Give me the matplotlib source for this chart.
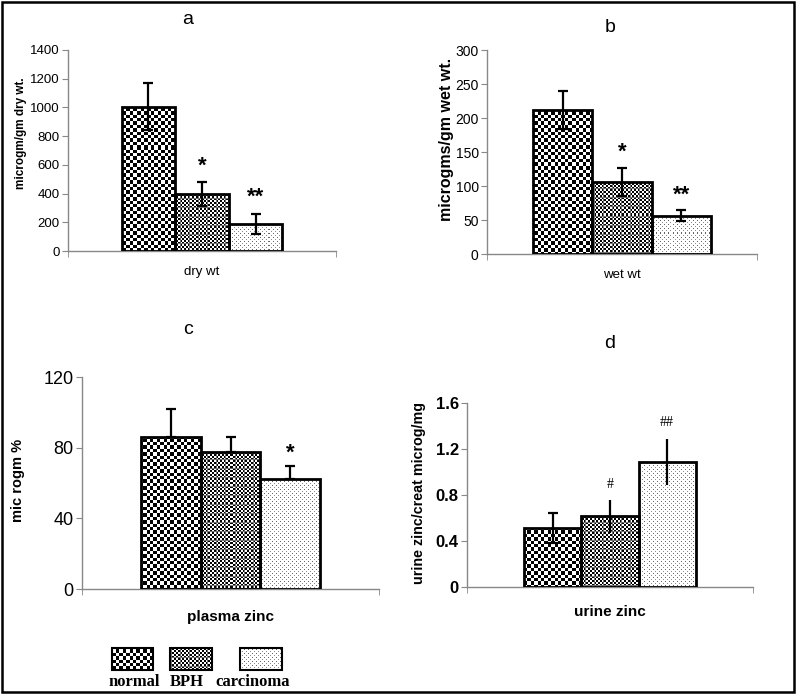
import numpy as np
import matplotlib
matplotlib.use("Agg")
import matplotlib.pyplot as plt
from matplotlib.patches import Rectangle

plt.rcParams['font.family'] = ['Liberation Sans', 'DejaVu Sans']

W, H = 796, 694
DPI = 100

groups = ["normal", "BPH", "carcinoma"]

# panel a
a_vals = [1005, 395, 188]
a_err = [165, 85, 70]
# panel b
b_vals = [212, 106, 56]
b_err = [28, 21, 8]
# panel c
c_vals = [86, 77.5, 62]
c_err = [16, 8.5, 7.5]
# panel d
d_vals = [0.51, 0.615, 1.085]
d_err = [0.13, 0.145, 0.2]

fig = plt.figure(figsize=(W / DPI, H / DPI), dpi=DPI)


def texture(kind, px0, py0, w, h):
    X, Y = np.meshgrid(np.arange(px0, px0 + w), np.arange(py0, py0 + h))
    if kind == 0:
        v = ((np.floor(X / 3.4) + np.floor(Y / 3.4)) % 2).astype(float)
    elif kind == 1:
        v = ((X // 2 + Y // 2) % 2).astype(float)
        v[(X % 9 == 0) | (Y % 9 == 0)] = 0.45
    else:
        v = np.ones(X.shape)
        v[(X % 4 == 0) & (Y % 4 == 0)] = 0.4
        v[(X % 4 == 2) & (Y % 4 == 2)] = 0.55
    return np.dstack([v, v, v])


def fill_texture(ax, x0, y0, x1, y1, kind, clip):
    xl, yl = ax.get_xlim(), ax.get_ylim()
    t = ax.transData
    d0 = t.transform((x0, y0))
    d1 = t.transform((x1, y1))
    px0, px1 = int(np.floor(min(d0[0], d1[0]))), int(np.ceil(max(d0[0], d1[0])))
    py0, py1 = int(np.floor(min(d0[1], d1[1]))), int(np.ceil(max(d0[1], d1[1])))
    arr = texture(kind, px0, py0, px1 - px0, py1 - py0)
    inv = t.inverted()
    e0 = inv.transform((px0, py0))
    e1 = inv.transform((px1, py1))
    im = ax.imshow(arr, extent=(e0[0], e1[0], e0[1], e1[1]), origin='lower',
                   interpolation='nearest', aspect='auto', zorder=2)
    im.set_clip_path(clip)
    ax.set_xlim(xl)
    ax.set_ylim(yl)


def make_panel(rect_px, vals, err, ymax, ystep, width, ylabel, ylabel_fs, ylab_xy,
               xlabel, xlabel_bold, xlabel_fs, xpad, tick_fs, tick_bold,
               lower=True, caps=(True, True, True)):
    l, r, t, b = rect_px
    ax = fig.add_axes([l / W, 1 - b / H, (r - l) / W, (b - t) / H])
    ax.set_xlim(0, 1)
    ax.set_ylim(0, ymax)
    xs = [0.5 + (i - 1) * width for i in range(3)]
    bars = ax.bar(xs, vals, width=width, facecolor='none', edgecolor='black',
                  linewidth=2, zorder=3)
    for i, bar in enumerate(bars):
        fill_texture(ax, xs[i] - width / 2, 0, xs[i] + width / 2, vals[i], i, bar)
    for i in range(3):
        yerr = [[err[i] if lower else 0], [err[i]]]
        ax.errorbar([xs[i]], [vals[i]], yerr=yerr, fmt='none', ecolor='black',
                    elinewidth=1.6, capsize=3.5 if caps[i] else 0, capthick=1.6,
                    zorder=4)
    for s in ['top', 'right']:
        ax.spines[s].set_visible(False)
    for s in ['left', 'bottom']:
        ax.spines[s].set_color('#888888')
        ax.spines[s].set_linewidth(1)
    ax.set_yticks(np.arange(0, ymax + ystep / 2, ystep))
    ax.tick_params(axis='y', direction='out', length=4, color='#888888',
                   labelsize=tick_fs, pad=2)
    ax.set_xticks([0.5])
    ax.set_xticklabels([xlabel], fontsize=xlabel_fs,
                       fontweight='bold' if xlabel_bold else 'normal')
    ax.tick_params(axis='x', length=0, pad=xpad)
    ax.set_xticks([0, 1], minor=True)
    ax.tick_params(axis='x', which='minor', length=4, color='#888888', direction='out')
    ax.set_ylabel(ylabel, fontsize=ylabel_fs, fontweight='bold')
    ax.yaxis.set_label_coords(*ylab_xy)
    ax.patch.set_visible(False)
    return ax, xs


star_kw = dict(ha='center', va='center', fontsize=16, fontweight='bold')

# panel a
ax_a, xa = make_panel((68, 336, 50, 251), a_vals, a_err, 1400, 200, 0.2,
                      "microgm/gm dry wt.", 8.5, (-0.152, 0.587),
                      "dry wt", False, 9.5, 11, 9.5, False)
ax_a.text(xa[1], 590, "*", **star_kw)
ax_a.text(xa[2], 375, "**", **star_kw)

# panel b
ax_b, xb = make_panel((487, 757, 50, 254), b_vals, b_err, 300, 50, 0.22,
                      "microgms/gm wet wt.", 11.5, (-0.122, 0.56),
                      "wet wt", False, 9.5, 11, 10, False)
ax_b.text(xb[1], 150, "*", **star_kw)
ax_b.text(xb[2], 86, "**", **star_kw)

# panel c
ax_c, xc = make_panel((82, 379, 377, 589), c_vals, c_err, 120, 40, 0.2,
                      "mic rogm %", 10.5, (-0.192, 0.514),
                      "plasma zinc", True, 11, 15, 13, False, lower=False)
ax_c.text(xc[2], 77, "*", **star_kw)

# panel d
ax_d, xd = make_panel((467, 753, 403, 587), d_vals, d_err, 1.6, 0.4, 0.2,
                      "urine zinc/creat microg/mg", 10.3, (-0.142, 0.51),
                      "urine zinc", True, 11, 13, 12, True,
                      caps=(True, False, False))
ax_d.yaxis.set_major_formatter(matplotlib.ticker.FuncFormatter(
    lambda v, p: "0" if v == 0 else f"{v:.1f}"))
for lab in ax_d.get_yticklabels():
    lab.set_fontweight('bold')
ax_d.text(xd[1], 0.887, "#", ha='center', va='center', fontsize=10,
          family=['Liberation Serif', 'DejaVu Serif'])
ax_d.text(xd[2], 1.43, "##", ha='center', va='center', fontsize=10,
          family=['Liberation Serif', 'DejaVu Serif'])

# titles
fig.text(188 / W, 1 - 20 / H, "a", ha='center', va='center', fontsize=14)
fig.text(610 / W, 1 - 28 / H, "b", ha='center', va='center', fontsize=14)
fig.text(188 / W, 1 - 330 / H, "c", ha='center', va='center', fontsize=14)
fig.text(610 / W, 1 - 343 / H, "d", ha='center', va='center', fontsize=14)

# overlay: legend and border
ov = fig.add_axes([0, 0, 1, 1])
ov.set_xlim(0, W)
ov.set_ylim(H, 0)
ov.axis('off')
ov.patch.set_visible(False)
leg_boxes = [(112, 153), (170, 212), (240, 282)]
leg_text_x = [134, 187, 253]
for i, (x0, x1) in enumerate(leg_boxes):
    rect = Rectangle((x0, 648), x1 - x0, 22, facecolor='none', edgecolor='black',
                     linewidth=1.5, zorder=3)
    ov.add_patch(rect)
    fill_texture(ov, x0, 670, x1, 648, i, rect)
    ov.text(leg_text_x[i], 682, groups[i], ha='center', va='center', fontsize=12,
            fontweight='bold', family=['Liberation Serif', 'DejaVu Serif'])
ov.add_patch(Rectangle((1.5, 1.5), W - 4, H - 4, facecolor='none',
                       edgecolor='black', linewidth=1.8, zorder=5))

fig.savefig("out.png", dpi=DPI)
